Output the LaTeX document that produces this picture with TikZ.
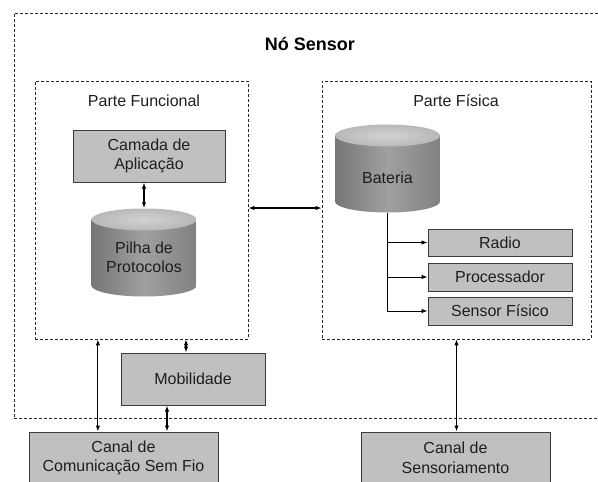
\documentclass[tikz,border=0pt]{standalone}
\usepackage{fontspec}
\setmainfont{Liberation Sans}
\usetikzlibrary{arrows.meta, calc}
\definecolor{BoxGray}{RGB}{192, 192, 192}
\definecolor{EdgeGray}{RGB}{60, 60, 60}
\definecolor{CylDark}{RGB}{118, 118, 118}
\definecolor{CylLight}{RGB}{160, 160, 160}
\definecolor{CylTop}{RGB}{210, 210, 210}
\definecolor{CylTopEdge}{RGB}{184, 184, 184}
\definecolor{TextGray}{RGB}{30, 30, 30}

\begin{document}
\begin{tikzpicture}[x=1pt, y=-1pt,
    every node/.style={font=\fontsize{16}{19.5}\selectfont, text=TextGray},
    dashbox/.style={draw=black!85, dash pattern=on 3pt off 2pt, line width=0.8pt, inner sep=0pt},
    graybox/.style={draw=EdgeGray, fill=BoxGray, line width=1pt, align=center, inner sep=0pt},
    cyl/.style={minimum width=105pt, minimum height=88pt, inner sep=0pt,
      path picture={
        \shade[left color=CylDark, right color=CylDark!92!white, middle color=CylLight]
          ([yshift=-11pt]path picture bounding box.north west) --
          ([yshift=11pt]path picture bounding box.south west)
          arc[start angle=180, end angle=360, x radius=52.5pt, y radius=11pt] --
          ([yshift=-11pt]path picture bounding box.north east) -- cycle;
        \shade[inner color=CylTop, outer color=CylTopEdge]
          ([yshift=-11pt]path picture bounding box.north) ellipse [x radius=52.5pt, y radius=11pt];
      }},
    biarrow/.style={{Latex[length=6pt, width=4.5pt]}-{Latex[length=6pt, width=4.5pt]}, line width=1.2pt},
    toarrow/.style={-{Latex[length=6pt, width=4.5pt]}, line width=0.9pt}]
    \useasboundingbox (0,0) rectangle (598,482);

    % Outer node box
    \node[dashbox, minimum width=592pt, minimum height=405pt] (sensor) at (310,215.5) {};
    \node[font=\bfseries\fontsize{18}{20}\selectfont, text=black] (titulo) at (310,44) {Nó Sensor};

    % Functional part
    \node[dashbox, minimum width=213pt, minimum height=258pt] (funcional) at (141.5,210) {};
    \node (funclabel) at (144,101) {Parte Funcional};
    \node[graybox, minimum width=152pt, minimum height=52pt] (camada) at (149,156) {Camada de\\Aplicação};
    \node[cyl, label={[align=center, yshift=-5pt]center:Pilha de\\Protocolos}] (pilha) at (144,252.5) {};

    % Physical part
    \node[dashbox, minimum width=269pt, minimum height=258pt] (fisica) at (456.5,210) {};
    \node (fislabel) at (456,101) {Parte Física};
    \node[cyl, label={[yshift=-9pt]center:Bateria}] (bateria) at (387.5,168.5) {};
    \node[graybox, minimum width=144pt, minimum height=27pt] (radio) at (500,242.5) {Radio};
    \node[graybox, minimum width=144pt, minimum height=28pt] (processador) at (500,277) {Processador};
    \node[graybox, minimum width=144pt, minimum height=28pt] (sensorfis) at (500,311) {Sensor Físico};

    % Outside blocks
    \node[graybox, minimum width=144pt, minimum height=52pt] (mobilidade) at (193,379) {Mobilidade};
    \node[graybox, minimum width=189pt, minimum height=52pt] (canalcom) at (123.5,458) {Canal de\\Comunicação Sem Fio};
    \node[graybox, minimum width=189pt, minimum height=52pt] (canalsens) at (455.5,458) {Canal de\\Sensoriamento};

    % Connections
    \draw[biarrow] (camada.south -| pilha.north) -- (pilha.north);
    \draw[biarrow] (funcional.east |- 0,208) -- (fisica.west |- 0,208);
    \draw[toarrow] (bateria.south) |- (radio.west);
    \draw[toarrow] (bateria.south) |- (processador.west);
    \draw[toarrow] (bateria.south) |- (sensorfis.west);

    \coordinate (f1) at ($(funcional.south west)!0.296!(funcional.south east)$);
    \draw[biarrow] (f1) -- (f1 |- canalcom.north);
    \draw[biarrow] ([xshift=-7pt]mobilidade.north |- funcional.south) -- ([xshift=-7pt]mobilidade.north);
    \draw[biarrow] ([xshift=-26pt]mobilidade.south) -- ([xshift=-26pt]mobilidade.south |- canalcom.north);
    \draw[biarrow] (fisica.south) -- (fisica.south |- canalsens.north);
\end{tikzpicture}
\end{document}
